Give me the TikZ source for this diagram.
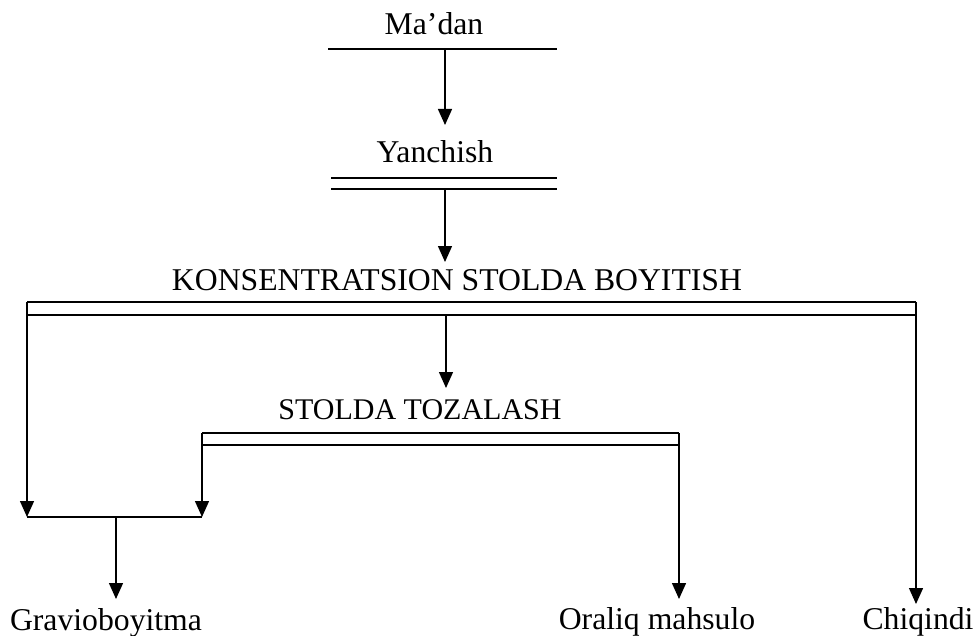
\documentclass[tikz,border=0pt]{standalone}
\usepackage{fontspec}
\setmainfont{Liberation Serif}
\usetikzlibrary{arrows.meta}
\begin{document}
\begin{tikzpicture}[x=1pt,y=-1pt,
  lbl/.style={anchor=base,inner sep=0pt,font=\fontsize{31.7}{38}\selectfont},
  ln/.style={line width=1.4pt},
  arr/.style={ln,-{Triangle[length=16pt,width=14pt]}}]
\useasboundingbox (0,0) rectangle (976,636);
% texts
\node[lbl] (madan) at (434,35) {Ma’dan};
\node[lbl] (yan) at (435,163) {Yanchish};
\node[lbl] (kon) at (457,290) {KONSENTRATSION STOLDA BOYITISH};
\node[lbl,font=\fontsize{30}{36}\selectfont] (toz) at (420,419) {STOLDA TOZALASH};
\node[lbl] (grav) at (106,630) {Gravioboyitma};
\node[lbl] (oral) at (657,629) {Oraliq mahsulo};
\node[lbl] (chiq) at (918,629) {Chiqindi};
% coordinates
\coordinate (m1) at (328,49); \coordinate (m2) at (557,49); \coordinate (mc) at (445,49);
\coordinate (y1) at (331,178); \coordinate (y2) at (557,178);
\coordinate (y3) at (331,189); \coordinate (y4) at (557,189); \coordinate (yc) at (445,189);
\coordinate (k1) at (27,302); \coordinate (k2) at (916,302);
\coordinate (k3) at (27,315); \coordinate (k4) at (916,315); \coordinate (kc) at (446,315);
\coordinate (t1) at (202,433); \coordinate (t2) at (679,433);
\coordinate (t3) at (202,445); \coordinate (t4) at (679,445);
\coordinate (j1) at (27,517); \coordinate (j2) at (202,517); \coordinate (jc) at (116,517);
% lines
\draw[ln] (m1) -- (m2);
\draw[arr] (mc) -- (445,125);
\draw[ln] (y1) -- (y2);
\draw[ln] (y3) -- (y4);
\draw[arr] (yc) -- (445,262);
\draw[ln] (k1) -- (k2);
\draw[ln] (k3) -- (k4);
\draw[arr] (kc) -- (446,388);
\draw[ln] (t1) -- (t2);
\draw[ln] (t3) -- (t4);
\draw[arr] (k1) -- (j1);
\draw[arr] (k2) -- (916,604);
\draw[arr] (t1) -- (j2);
\draw[arr] (t2) -- (679,599);
\draw[ln] (j1) -- (j2);
\draw[arr] (jc) -- (116,599);
\end{tikzpicture}
\end{document}
